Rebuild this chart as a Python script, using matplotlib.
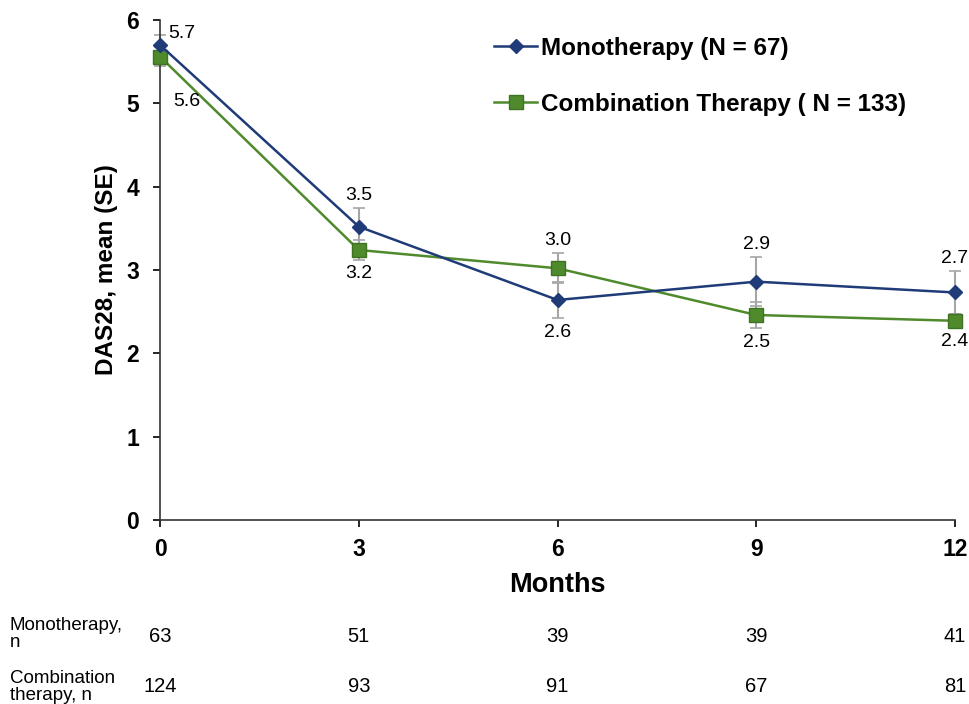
import matplotlib.pyplot as plt
import matplotlib.transforms as mtransforms

plt.rcParams['font.family'] = ['Liberation Sans', 'DejaVu Sans']

# Data
months = [0, 3, 6, 9, 12]
mono_mean = [5.70, 3.52, 2.64, 2.86, 2.73]
mono_se = [0.12, 0.22, 0.22, 0.29, 0.26]
combo_mean = [5.56, 3.24, 3.02, 2.46, 2.39]
combo_se = [0.11, 0.12, 0.18, 0.16, 0.08]

mono_labels = ['5.7', '3.5', '2.6', '2.9', '2.7']
combo_labels = ['5.6', '3.2', '3.0', '2.5', '2.4']
# +1 = label above the error bar, -1 = below
mono_side = [1, 1, -1, 1, 1]
combo_side = [-1, -1, 1, -1, -1]

mono_n = [63, 51, 39, 39, 41]
combo_n = [124, 93, 91, 67, 81]

blue = '#1f3b78'
green = '#4f8a2c'
grey = '#a6a6a6'

fig = plt.figure(figsize=(9.7, 7.04), dpi=100)
ax = fig.add_axes([0.165, 0.2614, 0.8196, 0.7102])

ax.errorbar(months, mono_mean, yerr=mono_se, fmt='none', ecolor=grey,
            elinewidth=1.5, capsize=4, capthick=1.2, zorder=2, clip_on=False)
ax.errorbar(months, combo_mean, yerr=combo_se, fmt='none', ecolor=grey,
            elinewidth=1.5, capsize=4, capthick=1.2, zorder=2, clip_on=False)

ax.plot(months, mono_mean, color=blue, lw=1.8, marker='D', ms=7,
        mfc=blue, mec=blue, label='Monotherapy (N = 67)', zorder=4, clip_on=False)
ax.plot(months, combo_mean, color=green, lw=1.8, marker='s', ms=10,
        mfc=green, mec='#3f7322', label='Combination Therapy ( N = 133)', zorder=3,
        clip_on=False)


def put_labels(means, ses, labels, sides):
    for x, y, e, t, s in zip(months, means, ses, labels, sides):
        if x == 0:
            continue
        if s > 0:
            ax.annotate(t, (x, y + e), xytext=(0, 9), textcoords='offset points',
                        ha='center', va='center', fontsize=14)
        else:
            ax.annotate(t, (x, y - e), xytext=(0, -10), textcoords='offset points',
                        ha='center', va='center', fontsize=14)


put_labels(mono_mean, mono_se, mono_labels, mono_side)
put_labels(combo_mean, combo_se, combo_labels, combo_side)
# labels at month 0 sit to the right of the markers
ax.annotate(mono_labels[0], (0, mono_mean[0]), xytext=(16, 8),
            textcoords='offset points', ha='center', va='center', fontsize=14)
ax.annotate(combo_labels[0], (0, combo_mean[0]), xytext=(19, -32),
            textcoords='offset points', ha='center', va='center', fontsize=14)

ax.set_xlim(0, 12)
ax.set_ylim(0, 6)
ax.set_xticks(months)
ax.set_yticks(range(7))
ax.tick_params(axis='both', labelsize=16.5, length=5, width=1.2, direction='out')
for lab in ax.get_xticklabels() + ax.get_yticklabels():
    lab.set_fontweight('bold')
ax.tick_params(axis='x', pad=8)
ax.tick_params(axis='y', pad=10)

for side in ['top', 'right']:
    ax.spines[side].set_visible(False)
for side in ['left', 'bottom']:
    ax.spines[side].set_linewidth(1.2)
    ax.spines[side].set_color('#333333')

ax.set_xlabel('Months', fontsize=19.5, fontweight='bold', labelpad=8)
ax.set_ylabel('DAS28, mean (SE)', fontsize=17.5, fontweight='bold', labelpad=6)

ax.legend(loc='upper right', bbox_to_anchor=(0.966, 1.01), frameon=False,
          prop={'size': 17.5, 'weight': 'bold'}, handlelength=1.8,
          handletextpad=0.15, labelspacing=1.35)

# Numbers at risk below the axis
trans = mtransforms.blended_transform_factory(ax.transData, fig.transFigure)
for x, n1, n2 in zip(months, mono_n, combo_n):
    ax.text(x, 1 - 636 / 704, str(n1), transform=trans, ha='center',
            va='center', fontsize=14.5, clip_on=False)
    ax.text(x, 1 - 686 / 704, str(n2), transform=trans, ha='center',
            va='center', fontsize=14.5, clip_on=False)

fig.text(10 / 970, 1 - 634 / 704, 'Monotherapy,\nn', ha='left', va='center',
         fontsize=13.5, linespacing=0.95)
fig.text(10 / 970, 1 - 687 / 704, 'Combination\ntherapy, n', ha='left',
         va='center', fontsize=13.5, linespacing=0.95)

fig.savefig('out.png', dpi=100)
